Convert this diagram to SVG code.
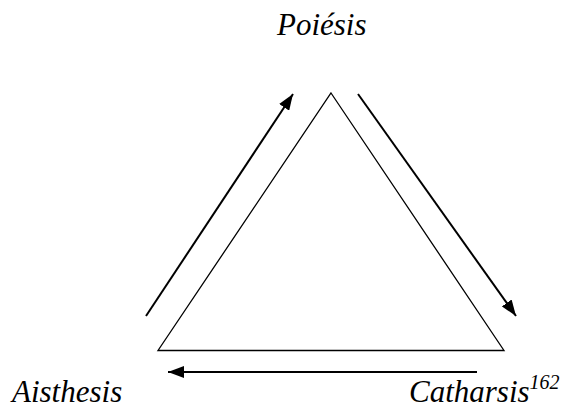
<svg xmlns="http://www.w3.org/2000/svg" width="566" height="408" viewBox="0 0 566 408">
<style>
.lbl{font-family:'Liberation Serif','Times New Roman',serif;font-style:italic;font-size:31px;fill:#000}
.sup{font-size:20px}
.tri{fill:none;stroke:#000;stroke-width:1.3}
.arr{fill:none;stroke:#000;stroke-width:2}
</style>
<defs>
<marker id="head" viewBox="0 0 16 12" refX="16" refY="6" markerWidth="16" markerHeight="12" markerUnits="userSpaceOnUse" orient="auto">
<path d="M0,0 L16,6 L0,12 Z" fill="#000"/>
</marker>
</defs>
<g id="triangle">
<polygon class="tri" points="331,93 504,350.5 158,350.5"/>
</g>
<g id="poiesis"><text class="lbl" x="277" y="35">Poiésis</text></g>
<g id="aisthesis"><text class="lbl" x="12" y="402">Aisthesis</text></g>
<g id="catharsis"><text class="lbl" x="409" y="402">Catharsis<tspan class="sup" dy="-13">162</tspan></text></g>
<g id="connectors">
<line class="arr" x1="146" y1="316" x2="293" y2="94" marker-end="url(#head)"/>
<line class="arr" x1="358" y1="94" x2="516" y2="316" marker-end="url(#head)"/>
<line class="arr" x1="477" y1="372" x2="168" y2="372" marker-end="url(#head)"/>
</g>
</svg>
